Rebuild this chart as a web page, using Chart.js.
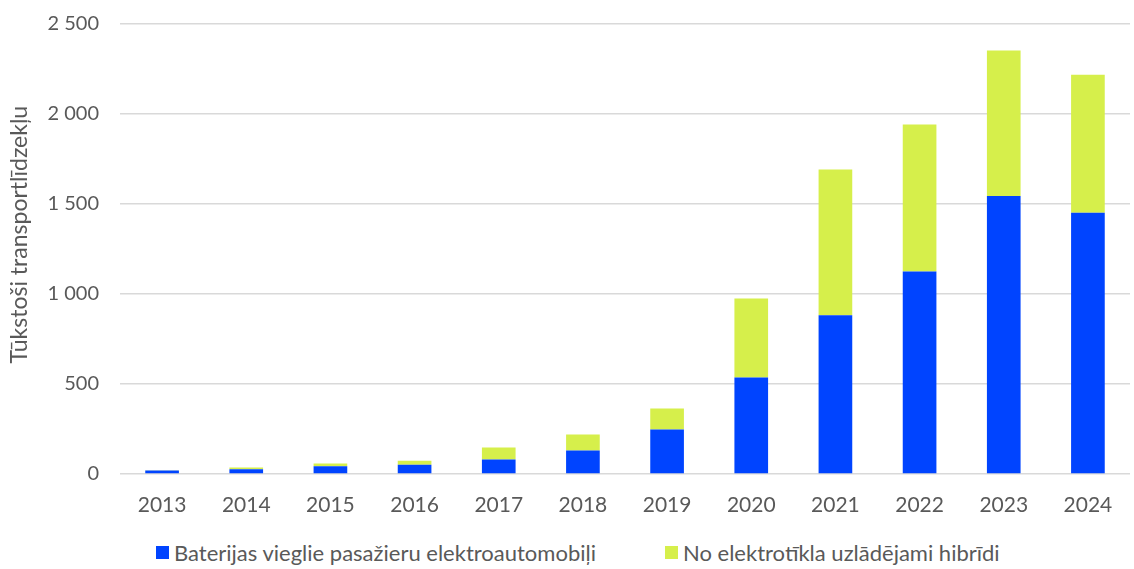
<!DOCTYPE html>
<html>
<head>
<meta charset="utf-8">
<script src="https://cdn.jsdelivr.net/npm/chart.js@4"></script>
<style>
  body { margin: 0; background: #fff; font-family: Lato, sans-serif; }
  #wrap { position: relative; width: 1134px; height: 520px; }
  #legend { display: flex; margin-left: 156px; margin-top: 19px; font-size: 22px; color: #595959; }
  #legend .item { display: flex; align-items: center; }
  #legend .item:first-child { width: 509px; }
  #legend .box { width: 13px; height: 13px; margin-right: 5px; }
</style>
</head>
<body>
<div id="wrap"><canvas id="chart"></canvas></div>
<div id="legend"></div>
<script>
// Years and values (thousand vehicles)
const years = ['2013', '2014', '2015', '2016', '2017', '2018', '2019', '2020', '2021', '2022', '2023', '2024'];
const bevValues = [19, 26, 43, 51, 81, 131, 247, 536, 882, 1125, 1545, 1451];
const phevValues = [2, 10, 15, 22, 66, 88, 117, 439, 810, 817, 808, 767];
const seriesNames = ['Baterijas vieglie pasažieru elektroautomobiļi', 'No elektrotīkla uzlādējami hibrīdi'];
const seriesColors = ['#0044FF', '#D6EF4B'];
const yTitle = 'Tūkstoši transportlīdzekļu';

const fmt = v => String(v).replace(/\B(?=(\d{3})+(?!\d))/g, ' ');

new Chart(document.getElementById('chart'), {
  type: 'bar',
  data: {
    labels: years,
    datasets: [
      { label: seriesNames[0], data: bevValues, backgroundColor: seriesColors[0] },
      { label: seriesNames[1], data: phevValues, backgroundColor: seriesColors[1] },
    ],
  },
  options: {
    responsive: true,
    maintainAspectRatio: false,
    animation: false,
    layout: { padding: { top: 24, right: 4, left: 0, bottom: 0 } },
    plugins: { legend: { display: false }, tooltip: { enabled: false } },
    datasets: { bar: { barPercentage: 0.4, categoryPercentage: 1 } },
    scales: {
      x: {
        stacked: true,
        grid: { display: false, drawTicks: false },
        border: { display: false },
        ticks: { color: '#595959', font: { family: 'Lato', size: 21 }, padding: 19 },
        afterFit: s => { s.height = 46; },
      },
      y: {
        stacked: true,
        min: 0,
        max: 2500,
        // invisible tick marks give the label gap without pushing the plot top down
        grid: { color: '#d9d9d9', lineWidth: 1.5, drawTicks: true, tickLength: 21, tickColor: 'rgba(0,0,0,0)' },
        border: { display: false },
        ticks: {
          stepSize: 500,
          color: '#595959',
          font: { family: 'Lato', size: 20 },
          padding: 0,
          callback: v => fmt(v),
        },
        title: {
          display: true,
          // leading spaces nudge the rotated title a little above the axis centre
          text: '\u00A0'.repeat(5) + yTitle,
          color: '#595959',
          font: { family: 'Lato', size: 23 },
          padding: { top: 6, bottom: 0 },
        },
        afterFit: s => { s.width = 120; },
      },
    },
  },
});

// Legend below the chart
const legend = document.getElementById('legend');
seriesNames.forEach((name, i) => {
  const item = document.createElement('div');
  item.className = 'item';
  item.innerHTML = '<span class="box" style="background:' + seriesColors[i] + '"></span><span>' + name + '</span>';
  legend.appendChild(item);
});
</script>
</body>
</html>
